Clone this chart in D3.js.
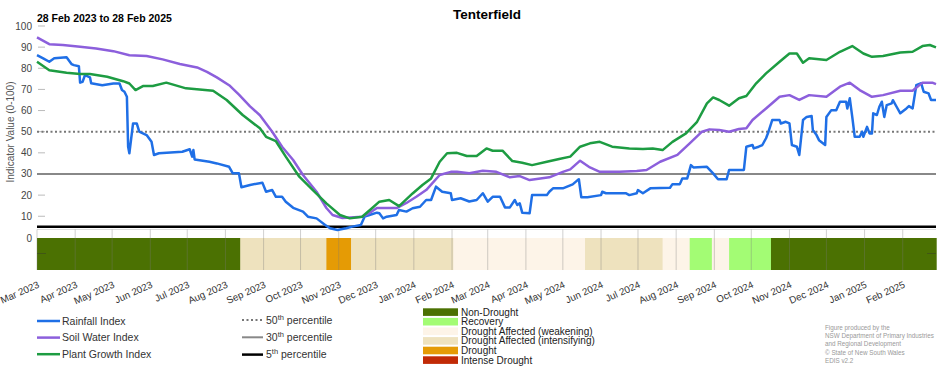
<!DOCTYPE html>
<html>
<head>
<meta charset="utf-8">
<script src="https://cdn.jsdelivr.net/npm/d3@7"></script>
<style>
  body { margin: 0; background: #fff; }
  svg { font-family: "Liberation Sans", Arial, sans-serif; }
</style>
</head>
<body>
<svg width="952" height="370"></svg>
<script>
// index values, [date, value]
const rainfallIndex = [
  ["2023-03-01",86.2],["2023-03-06",84.7],["2023-03-11",83.1],["2023-03-15",84.7],["2023-03-25",85.2],["2023-03-29",82],["2023-03-31",81.5],["2023-04-04",81],["2023-04-05",73.2],["2023-04-07",73.6],["2023-04-09",76.8],["2023-04-13",75.7],["2023-04-14",72.9],["2023-04-23",72],["2023-05-02",72.8],["2023-05-07",72.8],["2023-05-09",69.7],["2023-05-11",68.9],["2023-05-13",66.5],["2023-05-14",42.9],["2023-05-15",39.8],["2023-05-17",49.2],["2023-05-18",53.9],["2023-05-21",53.9],["2023-05-23",50],["2023-05-29",48.4],["2023-06-02",45.2],["2023-06-04",39],["2023-06-08",39.8],["2023-06-27",40.5],["2023-07-03",41.7],["2023-07-05",38.2],["2023-07-06",41.3],["2023-07-07",36.9],["2023-07-19",35.8],["2023-07-25",35],["2023-08-04",33.4],["2023-08-07",30.3],["2023-08-12",30.3],["2023-08-14",23.7],["2023-08-21",24.8],["2023-08-31",25.9],["2023-09-03",21.6],["2023-09-08",22.4],["2023-09-11",19.2],["2023-09-16",19.2],["2023-09-19",16.9],["2023-09-25",14],["2023-10-03",12.2],["2023-10-07",9.8],["2023-10-14",9],["2023-10-21",5.9],["2023-10-25",4.3],["2023-10-31",3.5],["2023-11-07",4.3],["2023-11-12",5.1],["2023-11-19",5.9],["2023-11-22",9.8],["2023-11-26",10.6],["2023-12-02",11.7],["2023-12-04",11.4],["2023-12-07",9],["2023-12-10",9.8],["2023-12-18",10.6],["2023-12-20",13],["2023-12-26",12.2],["2023-12-31",13.8],
  ["2024-01-06",14.5],["2024-01-11",17.7],["2024-01-15",17.7],["2024-01-19",24],["2024-01-24",21.6],["2024-01-31",20.9],["2024-02-01",17.7],["2024-02-08",18.5],["2024-02-15",17],["2024-02-21",17.7],["2024-02-26",20.9],["2024-03-01",16.9],["2024-03-05",19.2],["2024-03-11",19.2],["2024-03-15",14.2],["2024-03-19",14.2],["2024-03-23",17.7],["2024-03-25",15.3],["2024-03-27",16.1],["2024-03-29",11.7],["2024-04-04",11.4],["2024-04-06",20],["2024-04-18",20],["2024-04-20",21.6],["2024-04-23",23.2],["2024-05-01",23.2],["2024-05-09",25.1],["2024-05-13",27.1],["2024-05-14",27.5],["2024-05-16",19],["2024-05-21",19],["2024-06-01",20],["2024-06-02",21.6],["2024-06-05",20.9],["2024-06-21",20.9],["2024-06-24",20],["2024-06-30",20.9],["2024-07-01",22.4],["2024-07-05",20.9],["2024-07-11",23.2],["2024-07-27",23.5],["2024-07-29",25.2],["2024-08-04",25.2],["2024-08-06",27.9],["2024-08-10",27.9],["2024-08-13",34.2],["2024-08-15",33.1],["2024-08-26",33.4],["2024-08-31",30.3],["2024-09-04",27.5],["2024-09-11",27.5],["2024-09-13",31.9],["2024-09-25",31.9],["2024-09-27",42.9],["2024-10-02",43.7],["2024-10-03",42.1],["2024-10-07",42.9],["2024-10-10",43.7],["2024-10-13",46.9],["2024-10-15",50],["2024-10-18",55.5],["2024-10-24",55.5],["2024-10-25",53.9],["2024-10-29",54.7],["2024-11-01",53.9],["2024-11-03",43.7],["2024-11-07",42.9],["2024-11-09",39],["2024-11-12",55.5],["2024-11-15",57],["2024-11-19",57.4],["2024-11-20",50.8],["2024-11-23",48.4],["2024-11-25",46],["2024-11-30",43.7],["2024-12-01",57],["2024-12-05",60.2],["2024-12-09",60.2],["2024-12-12",64.2],["2024-12-17",64.2],["2024-12-18",61],["2024-12-20",65.8],["2024-12-22",57],["2024-12-24",47.6],["2024-12-28",47.6],["2024-12-30",50],["2024-12-31",47.6],
  ["2025-01-03",52.3],["2025-01-05",49.2],["2025-01-07",49.2],["2025-01-08",58.7],["2025-01-11",57.9],["2025-01-13",61.8],["2025-01-15",64.2],["2025-01-17",57],["2025-01-19",62.6],["2025-01-23",63.4],["2025-01-24",64.9],["2025-01-27",61.8],["2025-01-30",58.7],["2025-02-04",61],["2025-02-06",62.1],["2025-02-09",61],["2025-02-12",72],["2025-02-16",72.9],["2025-02-18",68.9],["2025-02-22",68.1],["2025-02-24",65],["2025-02-28",65]
];

const soilWaterIndex = [
  ["2023-03-01",94.6],["2023-03-11",91.4],["2023-03-22",91],["2023-04-05",90.2],["2023-04-18",89.4],["2023-05-02",88.1],["2023-05-15",86.2],["2023-05-29",85.8],["2023-06-11",84.2],["2023-06-25",82],["2023-07-09",80.4],["2023-07-17",78.3],["2023-07-25",75.7],["2023-08-04",72],["2023-08-12",67.5],["2023-08-21",62],["2023-08-29",57.8],["2023-09-08",50],["2023-09-16",42.9],["2023-09-25",36.6],["2023-10-03",29.5],["2023-10-14",21.6],["2023-10-22",13.9],["2023-10-27",10.6],["2023-11-04",9.2],["2023-11-20",9.8],["2023-11-26",11.5],["2023-12-02",13.9],["2023-12-18",13.9],["2023-12-26",16.3],
  ["2024-01-03",19.2],["2024-01-11",22.4],["2024-01-22",29.5],["2024-01-31",31],["2024-02-05",31],["2024-02-15",30.3],["2024-02-26",31.5],["2024-03-08",31],["2024-03-19",28.4],["2024-03-27",29],["2024-04-04",27.1],["2024-04-20",28.4],["2024-05-01",31],["2024-05-07",32.2],["2024-05-15",36.3],["2024-05-23",33.1],["2024-05-31",31],["2024-06-16",31],["2024-06-30",31.4],["2024-07-08",31.9],["2024-07-19",35.8],["2024-08-02",39],["2024-08-12",44.5],["2024-08-22",50],["2024-08-28",51.1],["2024-09-05",50.8],["2024-09-13",50],["2024-09-21",51.3],["2024-09-27",51.6],["2024-10-02",55.5],["2024-10-13",61],["2024-10-24",66.5],["2024-11-01",67.3],["2024-11-09",65],["2024-11-17",67.3],["2024-12-01",66.5],["2024-12-12",71.3],["2024-12-20",73.2],["2024-12-28",69.7],
  ["2025-01-07",66.5],["2025-01-16",67.3],["2025-01-30",69.4],["2025-02-09",69.4],["2025-02-17",73.2],["2025-02-25",73.2],["2025-02-28",72.5]
];

const plantGrowthIndex = [
  ["2023-03-01",83.1],["2023-03-11",79.1],["2023-03-25",77.9],["2023-04-05",77.3],["2023-04-13",77.3],["2023-04-27",76],["2023-05-10",73.9],["2023-05-15",72.8],["2023-05-20",69.7],["2023-05-26",71.6],["2023-06-03",71.6],["2023-06-14",73.2],["2023-06-30",70.5],["2023-07-22",69.4],["2023-08-02",65],["2023-08-15",57.9],["2023-08-29",51.6],["2023-09-03",47.6],["2023-09-11",45.5],["2023-09-19",38.2],["2023-09-30",28.7],["2023-10-11",22.4],["2023-10-22",16.1],["2023-11-02",10.6],["2023-11-10",9],["2023-11-20",9.8],["2023-11-28",13.8],["2023-12-04",16.9],["2023-12-12",17.7],["2023-12-20",14.8],["2023-12-31",20.8],
  ["2024-01-08",24.8],["2024-01-15",27.9],["2024-01-22",35.8],["2024-01-28",39.8],["2024-02-05",40],["2024-02-13",38.5],["2024-02-21",38.5],["2024-02-29",42.1],["2024-03-05",41],["2024-03-13",41],["2024-03-21",36.1],["2024-03-29",35.3],["2024-04-06",34.2],["2024-04-18",35.8],["2024-04-28",37.1],["2024-05-07",38.2],["2024-05-15",42.9],["2024-05-23",44.5],["2024-05-31",45.2],["2024-06-10",42.9],["2024-06-24",42.1],["2024-07-05",41.8],["2024-07-13",42.1],["2024-07-21",41.3],["2024-07-29",45.2],["2024-08-09",49.2],["2024-08-18",54.7],["2024-08-26",63.4],["2024-08-31",66.2],["2024-09-05",65],["2024-09-13",62.3],["2024-09-21",65.8],["2024-09-27",66.9],["2024-10-05",72.9],["2024-10-13",77.6],["2024-10-24",83.1],["2024-11-01",87],["2024-11-07",87],["2024-11-12",82.6],["2024-11-17",84.7],["2024-12-01",83.9],["2024-12-12",87.8],["2024-12-22",90.5],["2024-12-31",87],
  ["2025-01-07",85.4],["2025-01-16",85.8],["2025-01-30",87.5],["2025-02-09",87.8],["2025-02-17",90.5],["2025-02-23",91],["2025-02-28",89.9]
];

// drought category strip: start date of each spell
const droughtSpellStarts = ["2023-03-01","2023-08-13","2023-10-22","2023-11-11","2024-02-02","2024-05-19","2024-07-21","2024-08-12","2024-08-30","2024-09-13","2024-10-17"];
const droughtSpellCategory = ["Non-Drought","Drought Affected (intensifying)","Drought","Drought Affected (intensifying)","Drought Affected (weakening)","Drought Affected (intensifying)","Drought Affected (weakening)","Recovery","Drought Affected (weakening)","Recovery","Non-Drought"];

const categoryNames = ["Non-Drought","Recovery","Drought Affected (weakening)","Drought Affected (intensifying)","Drought","Intense Drought"];
const categoryColors = ["#4b7102","#a3fc74","#fdf4e8","#eee2be","#e59b05","#c12a06"];

const seriesNames = ["Rainfall Index","Soil Water Index","Plant Growth Index"];
const seriesColors = ["#1f6fe6","#8c5fdc","#1d9c42"];

const percentileValues = [50, 30, 5];
const percentileLabels = ["50", "30", "5"];

const yTicks = [0,10,20,30,40,50,60,70,80,90,100];
const dateStart = "2023-03-01", dateEnd = "2025-02-28";

const parse = d3.timeParse("%Y-%m-%d");

var svg = d3.select("svg"),
    left = 37, right = 936,
    stripTop = 238, stripBottom = 270;

const x = d3.scaleTime()
  .domain([parse(dateStart), parse(dateEnd)])
  .range([left, right]);

const y = d3.scaleLinear()
  .domain([0, 100])
  .range([237.4, 26]);

const catColor = d3.scaleOrdinal().domain(categoryNames).range(categoryColors);

// titles
svg.append("text")
  .attr("x", 487).attr("y", 19)
  .attr("text-anchor", "middle")
  .attr("font-size", 13.5).attr("font-weight", "bold")
  .text("Tenterfield");

svg.append("text")
  .attr("x", 37).attr("y", 22)
  .attr("font-size", 10.5).attr("font-weight", "bold")
  .text("28 Feb 2023 to 28 Feb 2025");

svg.append("text")
  .attr("transform", "translate(14,132) rotate(-90)")
  .attr("text-anchor", "middle")
  .attr("font-size", 10).attr("fill", "#555")
  .text("Indicator Value (0-100)");

// y axis: labels and short inward ticks
const yAxis = svg.append("g").attr("class", "y-axis");
yAxis.selectAll("text")
  .data(yTicks)
  .join("text")
    .attr("x", 32)
    .attr("y", (d) => d === 0 ? stripTop : y(d))
    .attr("dy", "0.35em")
    .attr("text-anchor", "end")
    .attr("font-size", 10).attr("fill", "#444")
    .text((d) => d);
yAxis.selectAll("line")
  .data(yTicks.filter((d) => d > 0))
  .join("line")
    .attr("x1", left + 1).attr("x2", left + 8)
    .attr("y1", (d) => y(d)).attr("y2", (d) => y(d))
    .attr("stroke", "#bbb");

// drought strip
const spells = droughtSpellStarts.map((s, i) => ({
  start: parse(s),
  end: i + 1 < droughtSpellStarts.length ? parse(droughtSpellStarts[i + 1]) : parse(dateEnd),
  category: droughtSpellCategory[i]
}));

svg.append("g")
  .selectAll("rect")
  .data(spells)
  .join("rect")
    .attr("x", (d) => x(d.start))
    .attr("y", stripTop)
    .attr("width", (d) => x(d.end) - x(d.start) + 0.7)
    .attr("height", stripBottom - stripTop)
    .attr("fill", (d) => catColor(d.category));

const months = d3.timeMonth.range(parse(dateStart), d3.timeDay.offset(parse(dateEnd), 1));

// month grid under the 5th percentile line and through the strip
svg.append("line")
  .attr("x1", left).attr("x2", right)
  .attr("y1", 229.5).attr("y2", 229.5)
  .attr("stroke", "#ddd");
svg.append("g")
  .selectAll("line")
  .data(months)
  .join("line")
    .attr("x1", (d) => x(d)).attr("x2", (d) => x(d))
    .attr("y1", 229.5).attr("y2", stripBottom)
    .attr("stroke", "#777").attr("stroke-opacity", 0.35);
svg.append("g")
  .selectAll("line")
  .data([left, right - 9])
  .join("line")
    .attr("x1", (d) => d).attr("x2", (d) => d + 9)
    .attr("y1", 253.5).attr("y2", 253.5)
    .attr("stroke", "#333").attr("stroke-opacity", 0.4);

// x axis labels
const fmt = d3.timeFormat("%b %Y");
svg.append("g")
  .selectAll("text")
  .data(months)
  .join("text")
    .attr("transform", (d) => "translate(" + (x(d) + 3) + ",287) rotate(-24)")
    .attr("text-anchor", "end")
    .attr("font-size", 9.8).attr("fill", "#333")
    .text(fmt);

// percentile lines
const percentileStyle = [
  { stroke: "#777", width: 2, dash: "2,2.5" },
  { stroke: "#888", width: 2, dash: null },
  { stroke: "#000", width: 2.5, dash: null }
];

svg.append("g")
  .selectAll("line")
  .data(percentileValues)
  .join("line")
    .attr("x1", left).attr("x2", right)
    .attr("y1", (d) => y(d)).attr("y2", (d) => y(d))
    .attr("stroke", (d, i) => percentileStyle[i].stroke)
    .attr("stroke-width", (d, i) => percentileStyle[i].width)
    .attr("stroke-dasharray", (d, i) => percentileStyle[i].dash);

// index lines
const line = d3.line()
  .x((d) => x(parse(d[0])))
  .y((d) => y(d[1]));

svg.append("g")
  .attr("fill", "none")
  .attr("stroke-width", 2.5)
  .attr("stroke-linejoin", "round")
  .selectAll("path")
  .data([rainfallIndex, soilWaterIndex, plantGrowthIndex])
  .join("path")
    .attr("stroke", (d, i) => seriesColors[i])
    .attr("d", line);

// legends
const legendSeries = svg.append("g").attr("font-size", 10.5).attr("fill", "#333");
seriesNames.forEach((name, i) => {
  const ly = 321 + i * 16.6;
  legendSeries.append("line")
    .attr("x1", 37).attr("x2", 60).attr("y1", ly).attr("y2", ly)
    .attr("stroke", seriesColors[i]).attr("stroke-width", 2.5);
  legendSeries.append("text")
    .attr("x", 62).attr("y", ly).attr("dy", "0.35em")
    .text(name);
});

const legendPct = svg.append("g").attr("font-size", 10.5).attr("fill", "#333");
percentileLabels.forEach((p, i) => {
  const ly = 320 + i * 17.3;
  const st = percentileStyle[i];
  legendPct.append("line")
    .attr("x1", 242).attr("x2", 263).attr("y1", ly).attr("y2", ly)
    .attr("stroke", st.stroke).attr("stroke-width", st.width)
    .attr("stroke-dasharray", st.dash);
  const t = legendPct.append("text")
    .attr("x", 266).attr("y", ly + 3.5);
  t.append("tspan").text(p);
  t.append("tspan").attr("dy", -4).attr("font-size", 7.5).text("th");
  t.append("tspan").attr("dy", 4).text(" percentile");
});

const legendCat = svg.append("g").attr("font-size", 10).attr("fill", "#222");
categoryNames.forEach((name, i) => {
  const ly = 308.3 + i * 9.6;
  legendCat.append("rect")
    .attr("x", 423).attr("y", ly).attr("width", 35).attr("height", 7.6)
    .attr("fill", categoryColors[i]);
  legendCat.append("text")
    .attr("x", 461).attr("y", ly + 3.8).attr("dy", "0.35em")
    .text(name);
});

// credit
const credit = ["Figure produced by the", "NSW Department of Primary Industries", "and Regional Development", "\u00a9 State of New South Wales", "EDIS v2.2"];
svg.append("g")
  .selectAll("text")
  .data(credit)
  .join("text")
    .attr("x", 825)
    .attr("y", (d, i) => 329.5 + i * 8.4)
    .attr("font-size", 6.3).attr("fill", "#999")
    .text((d) => d);
</script>
</body>
</html>
